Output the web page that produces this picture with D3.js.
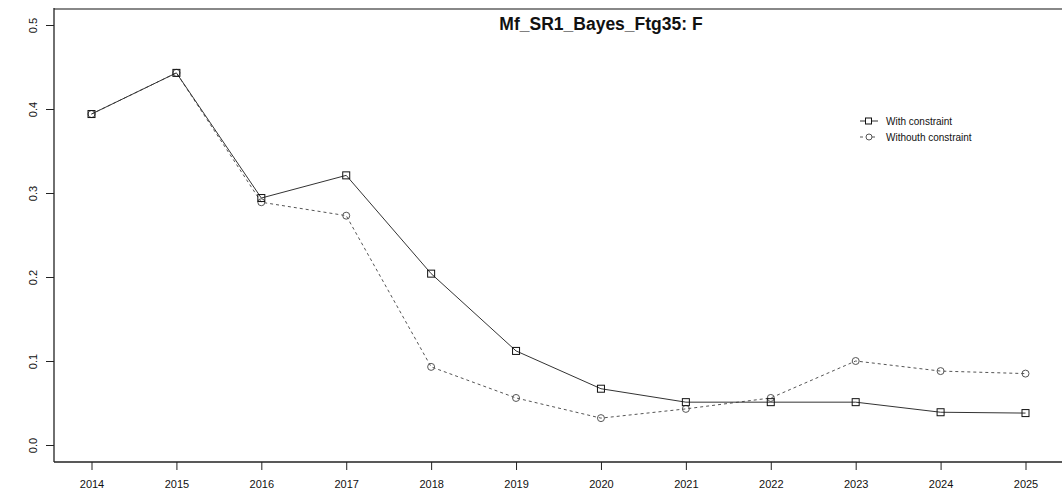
<!DOCTYPE html>
<html>
<head>
<meta charset="utf-8">
<script src="https://cdn.jsdelivr.net/npm/d3@7"></script>
<style>
  body { margin: 0; background: #fff; }
  text { font-family: "Liberation Sans", Arial, sans-serif; }
</style>
</head>
<body>
<div id="chart"></div>
<script>
// data
var years = [2014, 2015, 2016, 2017, 2018, 2019, 2020, 2021, 2022, 2023, 2024, 2025];
var withConstraint = [0.394, 0.443, 0.294, 0.321, 0.204, 0.112, 0.067, 0.051, 0.051, 0.051, 0.039, 0.038];
var withoutConstraint = [0.394, 0.443, 0.289, 0.273, 0.093, 0.056, 0.032, 0.043, 0.056, 0.100, 0.088, 0.085];
var yTicks = [0.0, 0.1, 0.2, 0.3, 0.4, 0.5];
var seriesNames = ["With constraint", "Withouth constraint"];
var title = "Mf_SR1_Bayes_Ftg35: F";

var width = 1062, height = 492;

var svg = d3.select("#chart").append("svg")
    .attr("width", width)
    .attr("height", height);

var x = d3.scaleLinear().domain([2014, 2025]).range([91.5, 1025.5]);
var y = d3.scaleLinear().domain([0, 0.5]).range([445, 25]);

// plot box (right edge runs off the page)
svg.append("line")
    .attr("x1", 54).attr("x2", width).attr("y1", 9).attr("y2", 9)
    .style("stroke", "#888").style("stroke-width", 2);
svg.append("line")
    .attr("x1", 54).attr("x2", 54).attr("y1", 8).attr("y2", 462)
    .style("stroke", "#222").style("stroke-width", 1.3);
svg.append("line")
    .attr("x1", 54).attr("x2", width).attr("y1", 462).attr("y2", 462)
    .style("stroke", "#222").style("stroke-width", 1.3);

// axes
var xAxis = d3.axisBottom(x).tickValues(years).tickFormat(d3.format("d")).tickSize(8).tickPadding(10);
var yAxis = d3.axisLeft(y).tickValues(yTicks).tickFormat(d3.format(".1f")).tickSize(8);

var gx = svg.append("g")
    .attr("transform", "translate(0,462)")
    .call(xAxis);
gx.select(".domain").remove();
gx.selectAll(".tick line").style("stroke", "#222");
gx.selectAll(".tick text")
    .style("font-size", "11px")
    .style("fill", "#111");

var gy = svg.append("g")
    .attr("transform", "translate(54,0)")
    .call(yAxis);
gy.select(".domain").remove();
gy.selectAll(".tick line").style("stroke", "#222");
gy.selectAll(".tick text")
    .attr("x", 0).attr("dy", 0)
    .attr("transform", "translate(-17,0) rotate(-90)")
    .style("text-anchor", "middle")
    .style("font-size", "11px")
    .style("fill", "#111");

// title
svg.append("text")
    .attr("x", 601)
    .attr("y", 30)
    .style("text-anchor", "middle")
    .style("font-size", "17.5px")
    .style("font-weight", "bold")
    .style("fill", "#111")
    .text(title);

var line = d3.line()
    .x(function(d, i) { return x(years[i]); })
    .y(function(d) { return y(d); });

// without constraint: dashed, circles
svg.append("path")
    .datum(withoutConstraint)
    .attr("d", line)
    .style("fill", "none")
    .style("stroke", "#555")
    .style("stroke-width", 1)
    .style("stroke-dasharray", "3,3");

svg.selectAll(".circ")
    .data(withoutConstraint)
  .enter().append("circle")
    .attr("class", "circ")
    .attr("cx", function(d, i) { return x(years[i]); })
    .attr("cy", function(d) { return y(d); })
    .attr("r", 3.5)
    .style("fill", "none")
    .style("stroke", "#555")
    .style("stroke-width", 1);

// with constraint: solid, squares
svg.append("path")
    .datum(withConstraint)
    .attr("d", line)
    .style("fill", "none")
    .style("stroke", "#333")
    .style("stroke-width", 1);

svg.selectAll(".sq")
    .data(withConstraint)
  .enter().append("rect")
    .attr("class", "sq")
    .attr("x", function(d, i) { return x(years[i]) - 3.5; })
    .attr("y", function(d) { return y(d) - 3.5; })
    .attr("width", 7)
    .attr("height", 7)
    .style("fill", "none")
    .style("stroke", "#111")
    .style("stroke-width", 1);

// legend
var legend = svg.append("g").attr("transform", "translate(860,121)");

legend.append("line")
    .attr("x1", 0).attr("x2", 18).attr("y1", 0).attr("y2", 0)
    .style("stroke", "#333");
legend.append("rect")
    .attr("x", 5.5).attr("y", -3).attr("width", 6).attr("height", 6)
    .style("fill", "#fff").style("stroke", "#111");
legend.append("text")
    .attr("x", 26).attr("y", 3.5)
    .style("font-size", "10px").style("fill", "#111")
    .text(seriesNames[0]);

legend.append("line")
    .attr("x1", 0).attr("x2", 18).attr("y1", 16).attr("y2", 16)
    .style("stroke", "#555").style("stroke-dasharray", "3,3");
legend.append("circle")
    .attr("cx", 9).attr("cy", 16).attr("r", 3)
    .style("fill", "#fff").style("stroke", "#555");
legend.append("text")
    .attr("x", 26).attr("y", 19.5)
    .style("font-size", "10px").style("fill", "#111")
    .text(seriesNames[1]);
</script>
</body>
</html>
